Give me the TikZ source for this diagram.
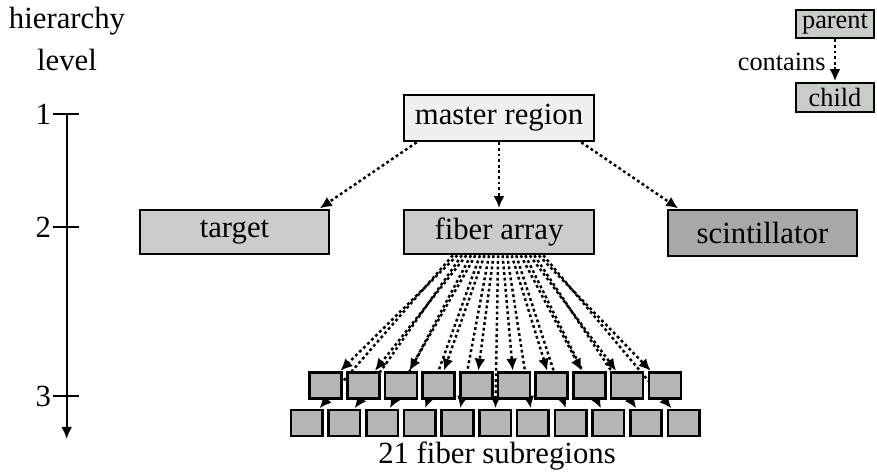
\documentclass[tikz,border=0pt]{standalone}
\usepackage{fontspec}
\setmainfont{Liberation Serif}
\usetikzlibrary{arrows.meta, calc}

\definecolor{legendgray}{RGB}{200,205,200}

\tikzset{
  region/.style={draw, line width=1.5pt, inner sep=0pt},
  contains/.style={line width=1.4pt, dash pattern=on 1.6pt off 1.6pt,
    -{Latex[length=2.4mm,width=2.2mm]}, shorten >=0.3pt},
}

\begin{document}
\begin{tikzpicture}[x=0.2mm, y=-0.2mm, font=\fontsize{17.5}{20}\selectfont]
        \useasboundingbox (0, 0) rectangle (877, 473);

        % level axis
        \node[anchor=base] (h1) at (67, 29) {hierarchy};
        \node[anchor=base] (h2) at (67, 71) {level};
        \node[anchor=east, inner sep=1pt] (l1) at (53, 114) {1};
        \node[anchor=east, inner sep=1pt] (l2) at (53, 227) {2};
        \node[anchor=east, inner sep=1pt] (l3) at (53, 396) {3};
        \coordinate (top) at (66.7, 114);
        \coordinate (bot) at (66.7, 439);
        \draw[line width=1.3pt, -{Latex[length=2.4mm,width=2.2mm]}] (top) -- (bot);
        \draw[line width=1.3pt] (l1.east) -- (79, 114);
        \draw[line width=1.3pt] (l2.east) -- (79, 227);
        \draw[line width=1.3pt] (l3.east) -- (79, 396);

        % legend
        \node (par) at (835, 24) [region, fill=legendgray, minimum width=1.56cm, minimum height=0.56cm,
          font=\fontsize{15}{17}\selectfont] {parent};
        \node (chi) at (835, 97.5) [region, fill=legendgray, minimum width=1.56cm, minimum height=0.58cm,
          font=\fontsize{15}{17}\selectfont] {child};
        \draw[contains] (par) -- (chi);
        \node[anchor=east, inner sep=0pt, font=\fontsize{15}{17}\selectfont] (lbl) at (826, 62) {contains};

        % levels 1 and 2
        \node (mr) at (499, 118) [region, fill=black!6, minimum width=3.8cm, minimum height=0.92cm] {master region};
        \node (tg) at (234.5, 232) [region, fill=black!20, minimum width=3.78cm, minimum height=0.88cm] {target};
        \node (fa) at (499, 232) [region, fill=black!20, minimum width=3.8cm, minimum height=0.88cm] {fiber array};
        \node (sc) at (762.5, 233) [region, fill=black!34, minimum width=3.78cm, minimum height=0.92cm] {scintillator};

        \draw[contains] ([xshift=2.8mm]mr.south west) -- ([xshift=-2.2mm]tg.north east);
        \draw[contains] (mr) -- (fa);
        \draw[contains] ([xshift=-2.8mm]mr.south east) -- ([xshift=2.4mm]sc.north west);

        % level 3: lower row first, its arrows run behind the upper row
        \foreach \i in {0,...,10} {
            \node (b\i) at (306.7 + 37.7*\i, 423) [region, fill=black!29, minimum width=0.63cm, minimum height=0.52cm] {};
            \draw[contains] ($(fa.south)!0.24!(fa.south -| b\i)$) -- (b\i);
        }
        \foreach \i in {0,...,9} {
            \node (a\i) at (325.55 + 37.7*\i, 385.5) [region, fill=black!29, minimum width=0.64cm, minimum height=0.52cm] {};
            \draw[contains] ($(fa.south)!0.24!(fa.south -| a\i)$) -- (a\i);
        }
        \node[anchor=base] (sub) at (497, 464) {21 fiber subregions};
    \end{tikzpicture}
\end{document}
